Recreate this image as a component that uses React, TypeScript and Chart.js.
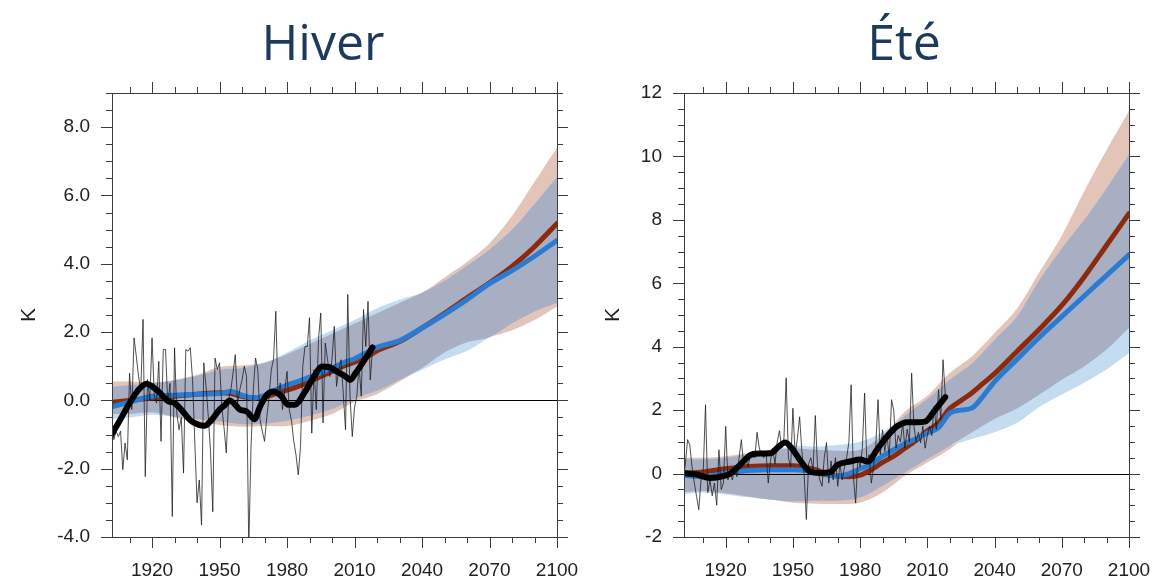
import React, { useEffect, useRef } from "react";
import { Chart, registerables } from "chart.js";

Chart.register(...registerables);

// ---------- shared ----------
const xTickLabels = [1920, 1950, 1980, 2010, 2040, 2070, 2100];

// ---------- Hiver ----------
const hiverBandYears = [1902, 1910, 1920, 1930, 1940, 1950, 1960, 1970, 1980, 1990, 2000, 2010, 2020, 2030, 2040, 2050, 2060, 2070, 2080, 2090, 2100];
const hiverRedUpper = [0.55, 0.55, 0.52, 0.6, 0.75, 0.98, 1.02, 1.1, 1.35, 1.65, 1.95, 2.25, 2.55, 2.85, 3.15, 3.6, 4.05, 4.6, 5.4, 6.4, 7.4];
const hiverBlueUpper = [0.4, 0.45, 0.5, 0.58, 0.72, 0.9, 0.95, 1.1, 1.4, 1.75, 2.05, 2.35, 2.7, 2.95, 3.15, 3.5, 3.95, 4.42, 5.0, 5.75, 6.55];
const hiverRedLower = [-0.4, -0.4, -0.35, -0.5, -0.62, -0.72, -0.77, -0.75, -0.75, -0.6, -0.4, -0.05, 0.18, 0.55, 0.95, 1.4, 1.7, 1.85, 2.05, 2.35, 2.75];
const hiverBlueLower = [-0.55, -0.5, -0.42, -0.48, -0.55, -0.62, -0.7, -0.68, -0.6, -0.45, -0.25, 0.05, 0.28, 0.6, 0.9, 1.2, 1.45, 1.85, 2.25, 2.6, 2.85];

const hiverMeanYears = [1902, 1910, 1920, 1930, 1940, 1950, 1955, 1960, 1965, 1970, 1975, 1980, 1985, 1990, 1995, 2000, 2005, 2010, 2015, 2020, 2030, 2040, 2050, 2060, 2070, 2080, 2090, 2100];
const hiverRedMean = [-0.06, 0.0, 0.07, 0.12, 0.18, 0.22, 0.2, 0.12, 0.07, 0.1, 0.2, 0.3, 0.41, 0.55, 0.7, 0.85, 1.0, 1.12, 1.25, 1.45, 1.72, 2.12, 2.55, 3.0, 3.44, 3.92, 4.5, 5.18];
const hiverBlueMean = [-0.19, -0.05, 0.12, 0.15, 0.18, 0.2, 0.26, 0.15, 0.07, 0.15, 0.31, 0.45, 0.56, 0.68, 0.8, 0.95, 1.1, 1.22, 1.39, 1.55, 1.75, 2.12, 2.52, 2.95, 3.42, 3.8, 4.22, 4.68];

const hiverObsStart = 1902;
const hiverObs = [
  -0.6, -1.15, -0.9, -1.06, -0.9, -2.03, -1.25, -1.74, 0.8, -0.27,
  1.83, 1.29, 0.7, 0.3, 2.37, -2.23, 0.61, 0.0, 1.83, 0.12,
  -0.08, 1.14, -1.2, 1.49, 1.49, -0.1, 0.5, -3.4, 1.54, -0.37,
  -0.86, -0.5, -2.13, 1.49, 1.44, 1.54, 0.61, -1.2, -3.0, -2.33,
  -3.65, 1.1, 0.41, -0.47, -1.5, -3.26, 1.24, 0.9, 1.1, -0.18,
  -0.8, -1.54, 0.02, 0.3, 0.8, 1.34, -0.1, 0.31, 0.6, 1.0,
  0.7, -4.3, -1.35, 0.3, 1.24, 0.9, -0.57, -0.9, -1.2, -0.5,
  0.1, 0.9, 1.2, 2.61, 0.12, 0.51, -0.27, 0.3, 0.85, -0.27,
  -0.6, -1.2, -1.6, -2.18, -1.35, 1.0, 1.58, 1.58, 2.42, -0.96,
  0.9, -0.27, 1.8, 2.56, -0.66, 1.68, 1.2, 0.7, 1.2, 2.17,
  0.41, 0.9, 1.19, 0.2, -0.86, 3.1, 0.12, -1.06, -0.2, 0.12,
  1.0, 0.12, 2.66, 1.58, 2.9, 0.6, 1.5,
];

const hiverSmoothYears = [1902, 1906, 1910, 1914, 1917.5, 1920, 1923.5, 1927, 1930, 1933, 1937, 1940.5, 1943.5, 1946.5, 1950, 1952.5, 1954.5, 1957, 1959, 1962, 1965.5, 1968, 1971, 1974, 1977.5, 1980.5, 1983.5, 1987.5, 1992, 1995.5, 1999, 2002, 2006, 2008, 2010.5, 2014, 2018];
const hiverSmooth = [-1.0, -0.55, -0.08, 0.31, 0.49, 0.41, 0.22, -0.02, -0.08, -0.27, -0.58, -0.71, -0.74, -0.57, -0.27, -0.13, 0.0, -0.13, -0.27, -0.32, -0.55, -0.18, 0.16, 0.26, 0.12, -0.13, -0.13, 0.2, 0.7, 0.99, 0.97, 0.85, 0.7, 0.6, 0.8, 1.14, 1.55];

const hiverYTicks = [-4, -2, 0, 2, 4, 6, 8];

// ---------- Été ----------
const eteBandYears = [1901, 1910, 1920, 1930, 1940, 1950, 1960, 1970, 1980, 1990, 2000, 2010, 2020, 2030, 2040, 2050, 2060, 2070, 2080, 2090, 2100];
const eteRedUpper = [0.5, 0.5, 0.55, 0.65, 0.75, 0.8, 0.75, 0.72, 0.75, 1.2, 1.95, 2.45, 3.17, 3.7, 4.43, 5.2, 6.35, 7.5, 8.9, 10.2, 11.43];
const eteBlueUpper = [0.45, 0.45, 0.5, 0.62, 0.72, 0.88, 0.85, 0.9, 1.0, 1.3, 1.83, 2.35, 2.96, 3.48, 4.22, 4.95, 6.1, 7.1, 8.0, 9.0, 10.06];
const eteRedLower = [-0.6, -0.55, -0.62, -0.72, -0.82, -0.92, -0.95, -0.96, -0.92, -0.6, -0.07, 0.35, 0.77, 1.3, 1.72, 2.05, 2.49, 2.96, 3.38, 3.91, 4.59];
const eteBlueLower = [-0.65, -0.6, -0.66, -0.75, -0.82, -0.88, -0.86, -0.86, -0.76, -0.39, 0.03, 0.45, 0.87, 1.09, 1.3, 1.6, 2.1, 2.49, 2.86, 3.28, 3.8];

const eteMeanYears = [1901, 1910, 1920, 1930, 1940, 1950, 1960, 1965, 1970, 1975, 1980, 1985, 1990, 1995, 2000, 2005, 2010, 2015, 2020, 2025, 2030, 2035, 2040, 2050, 2060, 2070, 2080, 2090, 2100];
const eteRedMean = [0.0, 0.05, 0.15, 0.22, 0.25, 0.25, 0.12, 0.0, -0.08, -0.1, -0.05, 0.12, 0.35, 0.55, 0.8, 1.05, 1.35, 1.6, 2.05, 2.3, 2.55, 2.85, 3.15, 3.85, 4.55, 5.3, 6.2, 7.2, 8.2];
const eteBlueMean = [-0.05, -0.1, 0.02, 0.1, 0.12, 0.12, 0.05, -0.05, -0.08, 0.0, 0.15, 0.3, 0.55, 0.75, 0.95, 1.1, 1.28, 1.45, 1.9, 2.0, 2.07, 2.45, 2.9, 3.6, 4.3, 4.95, 5.6, 6.25, 6.9];

const eteObsStart = 1901;
const eteObs = [
  -0.2, 0.3, 1.07, 0.9, 0.2, -0.3, -0.72, -1.14, -0.2, 0.1,
  2.17, -0.6, -0.2, -0.7, -0.3, -1.0, 0.75, -0.5, -0.3, 1.49,
  -0.2, 0.1, -0.2, 0.2, -0.1, 0.5, 1.07, 0.3, 0.5, 0.2,
  0.6, 0.7, 0.5, 1.3, 0.8, 0.6, 0.5, 0.7, -0.3, 0.4,
  0.8, 0.3, 1.0, 1.35, 0.8, 1.1, 3.02, 0.5, 0.2, 2.06,
  0.6, 1.1, 1.79, 0.7, 0.0, -1.45, 0.3, 0.5, 0.1, 1.83,
  0.2, -0.2, -0.4, 0.5, 0.98, -0.3, 0.4, -0.2, 0.5, -0.4,
  0.3, -0.2, 0.2, 0.5, 1.0, 2.8, -0.1, -0.93, 0.5, 0.2,
  0.8, 2.54, 0.3, 0.6, -0.3, 0.2, 0.9, 2.33, 0.6, 1.38,
  0.7, 1.2, 0.5, 2.33, 2.0, 0.8, 1.2, 1.0, 1.6, 0.8,
  1.4, 1.0, 3.17, 1.5, 1.0, 1.3, 0.97, 1.5, 0.8, 1.2,
  1.5, 1.2, 2.12, 1.4, 2.65, 1.7, 3.59, 2.5,
];

const eteSmoothYears = [1901, 1907, 1913, 1919, 1922.5, 1926.5, 1931.5, 1935.5, 1940, 1943.5, 1946.5, 1949.5, 1953, 1957.5, 1962, 1966.5, 1970, 1975.5, 1980, 1983.5, 1987.5, 1992, 1996.5, 2001, 2005, 2009, 2013.5, 2018];
const eteSmooth = [0.02, -0.03, -0.14, -0.08, 0.02, 0.28, 0.6, 0.63, 0.64, 0.84, 0.98, 0.8, 0.44, 0.07, 0.02, 0.04, 0.28, 0.38, 0.44, 0.38, 0.75, 1.17, 1.49, 1.62, 1.62, 1.64, 2.01, 2.41];

const eteYTicks = [-2, 0, 2, 4, 6, 8, 10, 12];

// ---------- colours ----------
const RED_BAND = "#e2c4b8";
const BLUE_BAND = "#c3dcf0";
const OVERLAP_BAND = "#a9afc3";
const RED_LINE = "#8b2a0c";
const BLUE_LINE = "#2a7bd2";
const FRAME = "#3c3c3c";
const TICK_FONT = "'Liberation Sans', Arial, sans-serif";

type Panel = {
  bandYears: number[];
  redUpper: number[];
  blueUpper: number[];
  redLower: number[];
  blueLower: number[];
  meanYears: number[];
  redMean: number[];
  blueMean: number[];
  obsStart: number;
  obs: number[];
  smoothYears: number[];
  smooth: number[];
  yTicks: number[];
  yMin: number;
  yMax: number;
  xMin: number;
  decimals: number;
  canvasW: number;
  areaLeft: number;
  areaRight: number;
  titlePad: number;
};

const AREA_TOP = 93;
const AREA_BOTTOM = 537;
const CANVAS_H = 581;

const pts = (xs: number[], ys: number[]) => xs.map((x, i) => ({ x, y: ys[i] }));

function buildDatasets(p: Panel) {
  const ovUpper = p.bandYears.map((x, i) => ({ x, y: Math.min(p.redUpper[i], p.blueUpper[i]) }));
  const ovLower = p.bandYears.map((x, i) => ({ x, y: Math.max(p.redLower[i], p.blueLower[i]) }));
  const obsPts = p.obs.map((v, i) => ({ x: p.obsStart + i, y: v }));
  const edge = { borderColor: "rgba(0,0,0,0)", borderWidth: 1, pointRadius: 0, tension: 0.3 };
  const thick = { pointRadius: 0, tension: 0.4, cubicInterpolationMode: "monotone", borderCapStyle: "round", borderJoinStyle: "round", fill: false };
  return [
    { ...thick, data: pts(p.smoothYears, p.smooth), borderColor: "#000", borderWidth: 6 },
    { data: obsPts, borderColor: "rgba(25,25,25,0.85)", borderWidth: 0.9, pointRadius: 0, tension: 0, fill: false },
    { ...thick, data: pts(p.meanYears, p.blueMean), borderColor: BLUE_LINE, borderWidth: 5 },
    { ...thick, data: pts(p.meanYears, p.redMean), borderColor: RED_LINE, borderWidth: 5 },
    { ...edge, data: ovUpper, fill: false },
    { ...edge, data: ovLower, fill: "-1", backgroundColor: OVERLAP_BAND },
    { ...edge, data: pts(p.bandYears, p.blueUpper), fill: false },
    { ...edge, data: pts(p.bandYears, p.blueLower), fill: "-1", backgroundColor: BLUE_BAND },
    { ...edge, data: pts(p.bandYears, p.redUpper), fill: false },
    { ...edge, data: pts(p.bandYears, p.redLower), fill: "-1", backgroundColor: RED_BAND },
  ];
}

const framePlugin = {
  id: "nclFrame",
  beforeDatasetsDraw(chart: any) {
    const { ctx, chartArea: a } = chart;
    const y = chart.scales.y;
    const y0 = Math.round(y.getPixelForValue(0)) + 0.5;
    ctx.save();
    ctx.strokeStyle = "#000";
    ctx.lineWidth = 1;
    ctx.beginPath();
    ctx.moveTo(a.left, y0);
    ctx.lineTo(a.right, y0);
    ctx.stroke();
    ctx.restore();
  },
  afterDraw(chart: any) {
    const { ctx, chartArea: a } = chart;
    const xs = chart.scales.x;
    const ys = chart.scales.y;
    ctx.save();
    ctx.strokeStyle = FRAME;
    ctx.lineWidth = 1;
    ctx.strokeRect(Math.round(a.left) + 0.5, Math.round(a.top) + 0.5, Math.round(a.right - a.left), Math.round(a.bottom - a.top));
    ctx.beginPath();
    for (let yr = 1910; yr <= 2100; yr += 10) {
      if (yr < xs.min) continue;
      const major = (yr - 1920) % 30 === 0;
      const len = major ? 11 : 6;
      const px = Math.round(xs.getPixelForValue(yr)) + 0.5;
      ctx.moveTo(px, a.bottom);
      ctx.lineTo(px, a.bottom + len);
      ctx.moveTo(px, a.top);
      ctx.lineTo(px, a.top - len);
    }
    for (let k = Math.ceil(ys.min * 2); k <= Math.floor(ys.max * 2); k++) {
      const v = k / 2;
      const major = k % 4 === 0;
      const len = major ? 11 : 6;
      const py = Math.round(ys.getPixelForValue(v)) + 0.5;
      ctx.moveTo(a.left, py);
      ctx.lineTo(a.left - len, py);
      ctx.moveTo(a.right, py);
      ctx.lineTo(a.right + len, py);
    }
    ctx.stroke();
    ctx.restore();
  },
};

function buildConfig(p: Panel): any {
  return {
    type: "line",
    data: { datasets: buildDatasets(p) },
    options: {
      animation: false,
      responsive: false,
      devicePixelRatio: 1,
      layout: { padding: { top: AREA_TOP, right: p.canvasW - p.areaRight, left: 0, bottom: 0 } },
      plugins: {
        legend: { display: false },
        tooltip: { enabled: false },
        filler: { drawTime: "beforeDatasetsDraw", propagate: false },
      },
      elements: { point: { radius: 0 } },
      scales: {
        x: {
          type: "linear",
          min: p.xMin,
          max: 2100,
          grid: { display: false, drawTicks: false, tickLength: 0 },
          border: { display: false },
          ticks: {
            autoSkip: false,
            maxRotation: 0,
            padding: 22,
            color: "#1e1e1e",
            font: { family: TICK_FONT, size: 19 },
            callback: (v: number) => String(v),
          },
          afterBuildTicks: (s: any) => {
            s.ticks = xTickLabels.map((v) => ({ value: v }));
          },
          afterFit: (s: any) => {
            s.height = CANVAS_H - AREA_BOTTOM;
            s.paddingLeft = 0;
            s.paddingRight = 0;
          },
        },
        y: {
          type: "linear",
          min: p.yMin,
          max: p.yMax,
          grid: { display: false, drawTicks: false, tickLength: 0 },
          border: { display: false },
          ticks: {
            autoSkip: false,
            padding: 22,
            color: "#1e1e1e",
            font: { family: TICK_FONT, size: 19 },
            callback: (v: number) => v.toFixed(p.decimals),
          },
          afterBuildTicks: (s: any) => {
            s.ticks = p.yTicks.map((v) => ({ value: v }));
          },
          afterFit: (s: any) => {
            s.width = p.areaLeft;
            s.paddingTop = 0;
            s.paddingBottom = 0;
          },
          title: {
            display: true,
            text: "K",
            color: "#1e1e1e",
            font: { family: TICK_FONT, size: 21 },
            padding: { top: p.titlePad, bottom: 0 },
          },
        },
      },
    },
    plugins: [framePlugin],
  };
}

const hiverPanel: Panel = {
  bandYears: hiverBandYears,
  redUpper: hiverRedUpper,
  blueUpper: hiverBlueUpper,
  redLower: hiverRedLower,
  blueLower: hiverBlueLower,
  meanYears: hiverMeanYears,
  redMean: hiverRedMean,
  blueMean: hiverBlueMean,
  obsStart: hiverObsStart,
  obs: hiverObs,
  smoothYears: hiverSmoothYears,
  smooth: hiverSmooth,
  yTicks: hiverYTicks,
  yMin: -4,
  yMax: 9,
  xMin: 1902.2,
  decimals: 1,
  canvasW: 580,
  areaLeft: 112,
  areaRight: 557,
  titlePad: 17,
};

const etePanel: Panel = {
  bandYears: eteBandYears,
  redUpper: eteRedUpper,
  blueUpper: eteBlueUpper,
  redLower: eteRedLower,
  blueLower: eteBlueLower,
  meanYears: eteMeanYears,
  redMean: eteRedMean,
  blueMean: eteBlueMean,
  obsStart: eteObsStart,
  obs: eteObs,
  smoothYears: eteSmoothYears,
  smooth: eteSmooth,
  yTicks: eteYTicks,
  yMin: -2,
  yMax: 12,
  xMin: 1901.4,
  decimals: 0,
  canvasW: 573,
  areaLeft: 104,
  areaRight: 549,
  titlePad: 21,
};

function PanelChart({ panel, left }: { panel: Panel; left: number }) {
  const ref = useRef<HTMLCanvasElement | null>(null);
  useEffect(() => {
    if (!ref.current) return;
    const chart = new Chart(ref.current, buildConfig(panel));
    return () => chart.destroy();
  }, [panel]);
  return (
    <canvas
      ref={ref}
      width={panel.canvasW}
      height={CANVAS_H}
      style={{ position: "absolute", left, top: 0, width: panel.canvasW, height: CANVAS_H }}
    />
  );
}

const titleStyle: React.CSSProperties = {
  position: "absolute",
  top: 16,
  fontFamily: "'Open Sans', 'Noto Sans', sans-serif",
  fontSize: 50,
  lineHeight: "50px",
  color: "#1b3a5e",
  width: 300,
  textAlign: "center",
  margin: 0,
  whiteSpace: "nowrap",
};

export default function App() {
  return (
    <div style={{ position: "absolute", left: 0, top: 0, width: 1153, height: 581, background: "#fff", overflow: "hidden" }}>
      <PanelChart panel={hiverPanel} left={0} />
      <PanelChart panel={etePanel} left={580} />
      <div style={{ ...titleStyle, left: 323 - 150 }}>Hiver</div>
      <div style={{ ...titleStyle, left: 904 - 150 }}>Été</div>
    </div>
  );
}
